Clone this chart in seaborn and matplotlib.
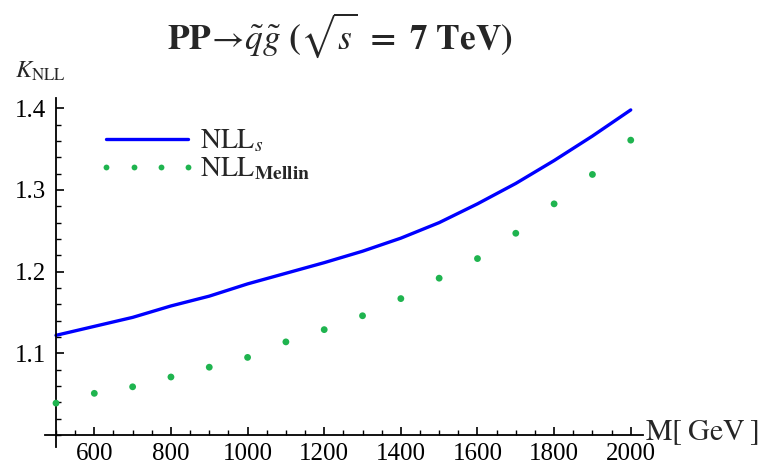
import matplotlib
matplotlib.use("Agg")
import matplotlib.pyplot as plt
import seaborn as sns
import pandas as pd
from matplotlib.lines import Line2D
from matplotlib.ticker import MultipleLocator

# ---- data ----
mass = [500, 600, 700, 800, 900, 1000, 1100, 1200, 1300, 1400,
        1500, 1600, 1700, 1800, 1900, 2000]
nll_s = [1.122, 1.133, 1.144, 1.158, 1.170, 1.185, 1.198, 1.211, 1.225, 1.241,
         1.260, 1.283, 1.308, 1.336, 1.366, 1.398]
nll_mellin = [1.039, 1.051, 1.059, 1.071, 1.083, 1.095, 1.114, 1.129, 1.146, 1.167,
              1.192, 1.216, 1.247, 1.283, 1.319, 1.361]
x_ticks = [600, 800, 1000, 1200, 1400, 1600, 1800, 2000]
y_ticks = [1.1, 1.2, 1.3, 1.4]
title = r'$\mathbf{PP}\!\rightarrow\!\tilde{q}\tilde{g}\ \mathbf{(}\sqrt{s}\ \mathbf{=\ 7\ TeV)}$'
ylabel = r'$K_{\mathrm{NLL}}$'
xlabel = r'$\mathrm{M[\,GeV\,]}$'
label_s = r'$\mathrm{NLL}_{s}$'
label_m = r'$\mathrm{NLL}_{\mathbf{Mellin}}$'

df = pd.DataFrame({"M": mass, "NLL_s": nll_s, "NLL_Mellin": nll_mellin})

sns.set_style("white")
plt.rcParams["font.family"] = ["Liberation Serif", "DejaVu Serif"]
plt.rcParams["mathtext.fontset"] = "stix"

W, H = 767, 469
fig = plt.figure(figsize=(W / 100, H / 100), dpi=100)
ax = fig.add_axes([45 / W, 1 - 447 / H, (643 - 45) / W, (447 - 98) / H])

blue = "#0000ff"
green = "#1fb44f"
sns.lineplot(data=df, x="M", y="NLL_s", ax=ax, color=blue, linewidth=2.4)
sns.scatterplot(data=df, x="M", y="NLL_Mellin", ax=ax, color=green, s=24,
                edgecolor="none", zorder=3)

ax.set_xlim(471.3, 2032)
ax.set_ylim(0.9853, 1.4126)

for side in ["top", "right"]:
    ax.spines[side].set_visible(False)
ax.spines["left"].set_position(("data", 500))
ax.spines["bottom"].set_position(("data", 1.0))
for side in ["left", "bottom"]:
    ax.spines[side].set_color("black")
    ax.spines[side].set_linewidth(1.3)

ax.set_xticks(x_ticks)
ax.set_yticks(y_ticks)
ax.set_yticklabels([f"{v:.1f}" for v in y_ticks])
ax.xaxis.set_minor_locator(MultipleLocator(50))
ax.yaxis.set_minor_locator(MultipleLocator(0.02))
ax.tick_params(which="major", direction="in", length=6, width=1.2, colors="black",
               labelsize=18, pad=7)
ax.tick_params(axis="x", which="major", pad=6)
ax.tick_params(which="minor", direction="in", length=3.5, width=1.0, colors="black")
ax.tick_params(axis="x", which="both", bottom=True)
ax.tick_params(axis="y", which="both", left=True)
ax.set_xlabel("")
ax.set_ylabel("")

fig.text(340 / W, 1 - 35 / H, title, ha="center", va="center", fontsize=25.5)
fig.text(40 / W, 1 - 71 / H, ylabel, ha="center", va="center", fontsize=17.5)
fig.text(645 / W, 1 - 433 / H, r'$\mathrm{M[\;GeV\;]}$', ha="left", va="center",
         fontsize=21.5)

handles = [Line2D([0], [0], color=blue, linewidth=2.4),
           Line2D([0], [0], color=green, linestyle="none", marker="o",
                  markersize=4.2, markeredgewidth=0)]
leg = ax.legend(handles, [label_s, label_m], loc="upper left",
                bbox_to_anchor=(98 / W, 1 - 128 / H), bbox_transform=fig.transFigure,
                frameon=False, fontsize=20, handlelength=3.55, handletextpad=0.12,
                labelspacing=0.05, borderpad=0, borderaxespad=0, numpoints=4)

fig.savefig("out.png", dpi=100)
